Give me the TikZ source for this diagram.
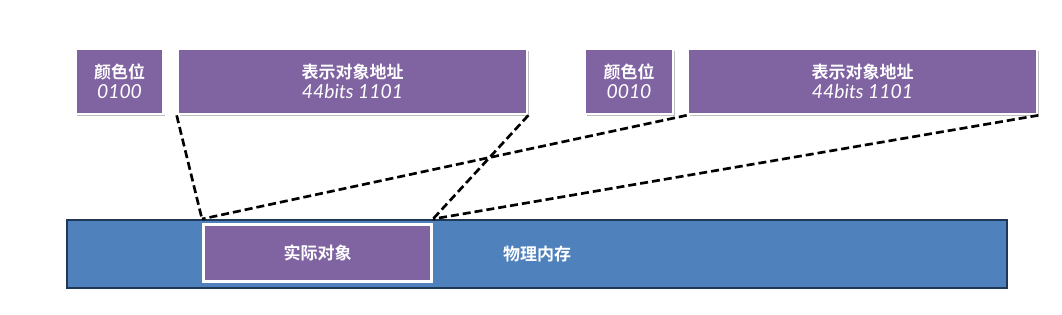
\documentclass[tikz,border=0pt]{standalone}
\usepackage{fontspec}
\newfontfamily\cjkbf{Noto Sans CJK SC Bold}
\newfontfamily\bitfont{Lato}
\newcommand{\bitval}[1]{{\bitfont\itshape\fontsize{14.5}{16}\selectfont #1}}
\usetikzlibrary{shadows}
\definecolor{bitpurple}{RGB}{128,100,162}
\definecolor{memblue}{RGB}{79,129,189}
\definecolor{memedge}{RGB}{31,56,88}

\begin{document}
\begin{tikzpicture}[x=0.75pt, y=-0.75pt, font=\fontsize{12.75}{16}\selectfont,
  bitbox/.style={draw=white, line width=2pt, fill=bitpurple, text=white, align=center, inner sep=0pt, minimum height=48.75pt, drop shadow={opacity=0.5, shadow xshift=1.2pt, shadow yshift=-1.8pt}},
  link/.style={line width=2pt, dash pattern=on 6pt off 3pt}]
  \useasboundingbox (0,0) rectangle (1062,314);
  % pointers
  \node[bitbox, minimum width=66pt] (colorA) at (119.5,81.5) {\cjkbf 颜色位\\[-1pt]\bitval{0100}};
  \node[bitbox, minimum width=261.75pt] (addrA) at (352.5,81.5) {\cjkbf 表示对象地址\\[-1pt]\bitval{44bits 1101}};
  \node[bitbox, minimum width=66pt] (colorB) at (629,81.5) {\cjkbf 颜色位\\[-1pt]\bitval{0010}};
  \node[bitbox, minimum width=261.75pt] (addrB) at (862.5,81.5) {\cjkbf 表示对象地址\\[-1pt]\bitval{44bits 1101}};
  % memory
  \node[draw=memedge, line width=1.5pt, fill=memblue, text=white, minimum width=705pt, minimum height=51pt] (mem) at (537,254) {\cjkbf 物理内存};
  \node[draw=white, line width=2.25pt, fill=bitpurple, text=white, minimum width=171pt, minimum height=42.75pt, drop shadow={opacity=0.4, shadow xshift=0.8pt, shadow yshift=-1.2pt}] (obj) at (317.5,253) {\cjkbf 实际对象};
  \coordinate (objL) at (obj.north west |- mem.north);
  \coordinate (objR) at (obj.north east |- mem.north);
  \draw[link] (addrA.south west) -- (objL);
  \draw[link] (addrA.south east) -- (objR);
  \draw[link] (addrB.south west) -- (objL);
  \draw[link] (addrB.south east) -- (objR);
\end{tikzpicture}
\end{document}
